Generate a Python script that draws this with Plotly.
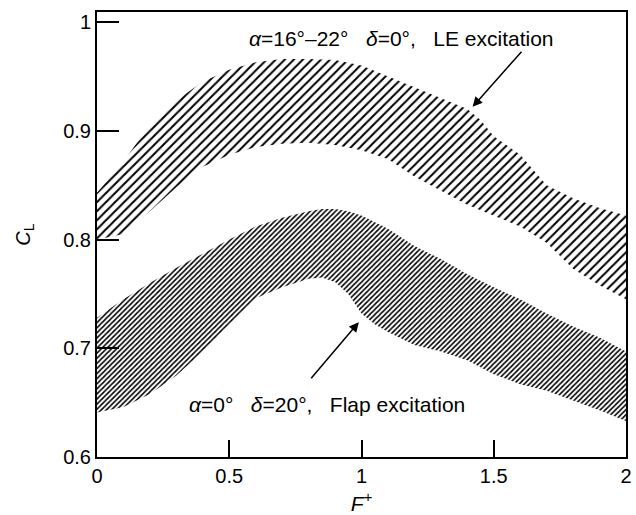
import plotly.graph_objects as go

# LE excitation band (alpha=16-22 deg, delta=0)
le_x = [0, 0.1, 0.2, 0.3, 0.4, 0.5, 0.6, 0.7, 0.8, 0.9, 1.0, 1.1, 1.2, 1.3, 1.4, 1.45, 1.5, 1.6, 1.7, 1.8, 1.9, 2.0]
le_upper = [0.843, 0.872, 0.905, 0.928, 0.945, 0.956, 0.963, 0.966, 0.966, 0.965, 0.960, 0.950, 0.940, 0.930, 0.920, 0.910, 0.895, 0.878, 0.850, 0.838, 0.829, 0.822]
le_lower = [0.800, 0.805, 0.826, 0.848, 0.867, 0.878, 0.885, 0.888, 0.889, 0.887, 0.882, 0.874, 0.858, 0.845, 0.832, 0.827, 0.822, 0.812, 0.797, 0.773, 0.758, 0.745]

# Flap excitation band (alpha=0, delta=20 deg)
flap_x = [0, 0.1, 0.2, 0.3, 0.4, 0.5, 0.6, 0.7, 0.8, 0.85, 0.9, 0.95, 1.0, 1.05, 1.1, 1.2, 1.3, 1.4, 1.5, 1.6, 1.7, 1.8, 1.9, 2.0]
flap_upper = [0.728, 0.745, 0.760, 0.774, 0.787, 0.800, 0.812, 0.820, 0.826, 0.828, 0.828, 0.826, 0.822, 0.816, 0.810, 0.794, 0.782, 0.768, 0.756, 0.745, 0.732, 0.720, 0.710, 0.697]
flap_lower = [0.641, 0.646, 0.658, 0.675, 0.697, 0.722, 0.746, 0.756, 0.764, 0.765, 0.761, 0.750, 0.732, 0.722, 0.715, 0.703, 0.697, 0.689, 0.676, 0.667, 0.661, 0.652, 0.643, 0.633]

x_ticks = [0, 0.5, 1, 1.5, 2]
x_ticklabels = ["0", "0.5", "1", "1.5", "2"]
y_ticks = [0.6, 0.7, 0.8, 0.9, 1.0]
y_ticklabels = ["0.6", "0.7", "0.8", "0.9", "1"]

FONT = "Liberation Sans, Arial, sans-serif"

fig = go.Figure()
fig.add_trace(go.Scatter(x=le_x, y=le_lower, mode="lines", line=dict(width=0, color="black"),
                         showlegend=False, hoverinfo="skip"))
fig.add_trace(go.Scatter(x=le_x, y=le_upper, mode="lines", line=dict(width=0, color="black"),
                         fill="tonexty", fillcolor="rgba(0,0,0,0)",
                         fillpattern=dict(shape="/", size=6.4, solidity=0.32, fgcolor="black",
                                          fgopacity=1, bgcolor="rgba(0,0,0,0)"),
                         showlegend=False, hoverinfo="skip"))
fig.add_trace(go.Scatter(x=flap_x, y=flap_lower, mode="lines", line=dict(width=0, color="black"),
                         showlegend=False, hoverinfo="skip"))
fig.add_trace(go.Scatter(x=flap_x, y=flap_upper, mode="lines", line=dict(width=0, color="black"),
                         fill="tonexty", fillcolor="rgba(0,0,0,0)",
                         fillpattern=dict(shape="/", size=3.6, solidity=0.45, fgcolor="black",
                                          fgopacity=1, bgcolor="rgba(0,0,0,0)"),
                         showlegend=False, hoverinfo="skip"))

fig.add_annotation(x=1.153, y=0.985, xref="x", yref="y", showarrow=False,
                   text="<i>α</i>=16°–22°   <i>δ</i>=0°,   LE excitation",
                   font=dict(family=FONT, size=21, color="black"))
fig.add_annotation(x=0.868, y=0.648, xref="x", yref="y", showarrow=False,
                   text="<i>α</i>=0°   <i>δ</i>=20°,   Flap excitation",
                   font=dict(family=FONT, size=21, color="black"))
fig.add_annotation(x=1.42, y=0.922, ax=1.61, ay=0.974, xref="x", yref="y", axref="x", ayref="y",
                   text="", showarrow=True, arrowhead=2, arrowsize=1.3, arrowwidth=1.5, arrowcolor="black")
fig.add_annotation(x=0.99, y=0.724, ax=0.805, ay=0.671, xref="x", yref="y", axref="x", ayref="y",
                   text="", showarrow=True, arrowhead=2, arrowsize=1.3, arrowwidth=1.5, arrowcolor="black")

fig.update_layout(
    width=636, height=515,
    margin=dict(l=97, r=10, t=12, b=58),
    paper_bgcolor="white", plot_bgcolor="white",
    font=dict(family=FONT, size=20, color="black"),
    showlegend=False,
)
fig.update_xaxes(range=[0, 2], tickvals=x_ticks, ticktext=x_ticklabels,
                 ticks="inside", ticklen=17, tickwidth=2, tickcolor="black",
                 showline=True, linewidth=2, linecolor="black", mirror=True,
                 showgrid=False, zeroline=False, automargin=False,
                 title=dict(text="<i>F</i><sup>+</sup>", standoff=13, font=dict(size=21)))
fig.update_yaxes(range=[0.6, 1.0092], tickvals=y_ticks, ticktext=y_ticklabels,
                 ticks="inside", ticklen=22, tickwidth=2, tickcolor="black",
                 showline=True, linewidth=2, linecolor="black", mirror=True,
                 showgrid=False, zeroline=False, automargin=False,
                 title=dict(text="<i>C</i><sub>L</sub>", standoff=27, font=dict(size=20)))

fig.write_html("out.html")
